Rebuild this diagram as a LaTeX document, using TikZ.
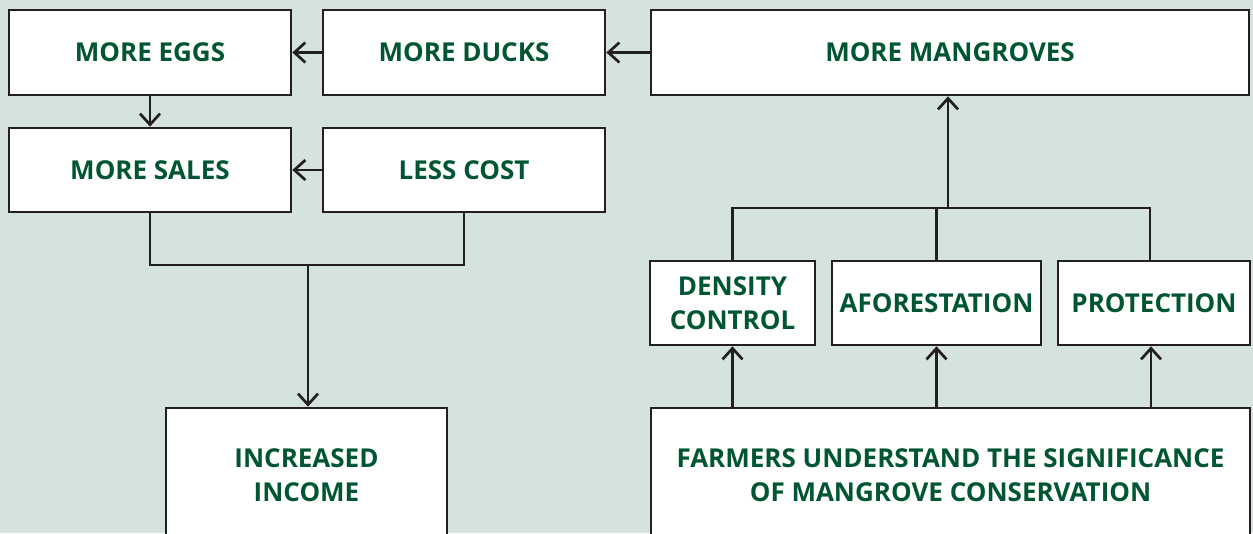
\documentclass[tikz,border=0pt]{standalone}
\usepackage{fontspec}
\setmainfont{Open Sans}
\usetikzlibrary{arrows.meta}
\definecolor{bgc}{HTML}{D5E3DE}
\definecolor{txtc}{HTML}{005632}
\definecolor{linec}{HTML}{231F20}
\begin{document}
\begin{tikzpicture}[x=1pt,y=-1pt,
  box/.style={draw=linec,fill=white,line width=2.7pt,inner sep=0pt,align=center,
    text=txtc,font=\fontsize{26}{34}\selectfont\bfseries},
  conn/.style={draw=linec,line width=2.7pt},
  arr/.style={conn,-{Straight Barb[length=11pt,width=20pt,line width=2.7pt]}}]
\useasboundingbox (0,0) rectangle (1253,533);
\clip (0,0) rectangle (1253,533);
\fill[bgc] (0,0) rectangle (1253,533);
\node[box,minimum width=282pt,minimum height=85pt] (eggs) at (150,52.5) {MORE EGGS};
\node[box,minimum width=282pt,minimum height=85pt] (ducks) at (464,52.5) {MORE DUCKS};
\node[box,minimum width=598pt,minimum height=85pt] (mang) at (950,52.5) {MORE MANGROVES};
\node[box,minimum width=282pt,minimum height=84pt] (sales) at (150,170) {MORE SALES};
\node[box,minimum width=282pt,minimum height=84pt] (cost) at (464,170) {LESS COST};
\node[box,minimum width=165pt,minimum height=84pt] (dens) at (732.5,303) {DENSITY\\CONTROL};
\node[box,minimum width=209pt,minimum height=84pt] (afor) at (936.5,303) {AFORESTATION};
\node[box,minimum width=192pt,minimum height=84pt] (prot) at (1154,303) {PROTECTION};
\node[box,minimum width=281pt,minimum height=134pt] (income) at (306.5,475) {INCREASED\\INCOME};
\node[box,minimum width=599pt,minimum height=134pt] (farm) at (950.5,475) {FARMERS UNDERSTAND THE SIGNIFICANCE\\OF MANGROVE CONSERVATION};
\coordinate (j1) at (308,265);
\coordinate (j2) at (948,208);
\draw[arr] (ducks.west) -- (eggs.east);
\draw[arr] (mang.west) -- (ducks.east);
\draw[arr] (cost.west) -- (sales.east);
\draw[arr] (eggs.south) -- (sales.north);
\draw[conn] (sales.south) |- (cost.south |- j1) -- (cost.south);
\draw[arr] (j1) -- (income.north -| j1);
\draw[conn] (dens.north) |- ([xshift=-4pt]prot.north |- j2) -- ([xshift=-4pt]prot.north);
\draw[conn] (afor.north) -- (afor.north |- j2);
\draw[arr] (j2) -- (mang.south -| j2);
\draw[arr] (farm.north -| dens.north) -- (dens.south);
\draw[arr] (farm.north -| afor.north) -- (afor.south);
\draw[arr] ([xshift=-3pt]farm.north -| prot.north) -- ([xshift=-3pt]prot.south);
\end{tikzpicture}
\end{document}
